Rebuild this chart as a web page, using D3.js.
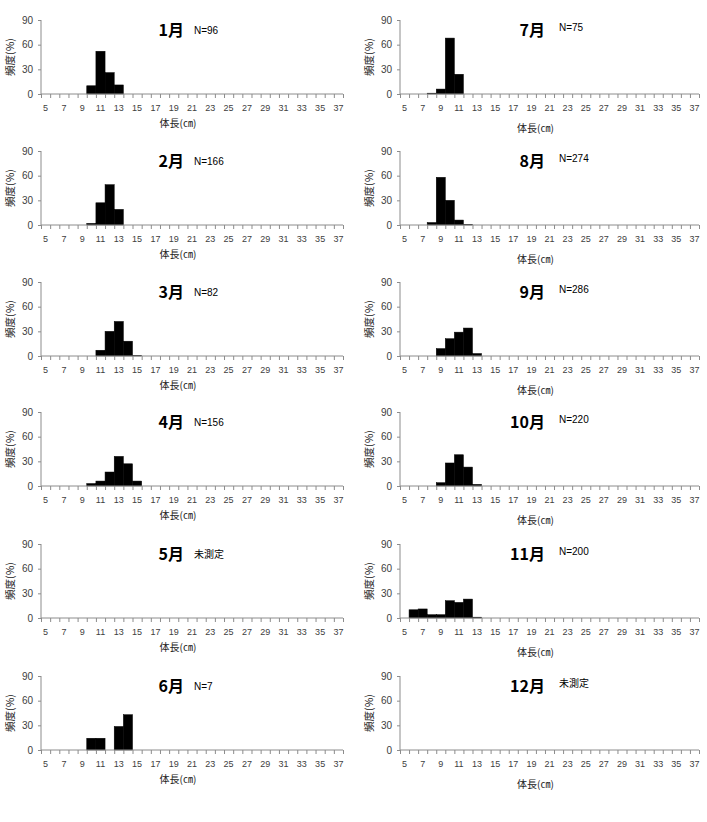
<!DOCTYPE html>
<html>
<head>
<meta charset="utf-8">
<script src="https://cdn.jsdelivr.net/npm/d3@7"></script>
<style>
  body { margin: 0; background: #fff; }
  .tick text { font-family: "Liberation Sans", Arial, sans-serif; font-size: 9px; fill: #404040; }
  .yax .tick text { font-size: 10px; }
  .domain, .tick line { stroke: #8c8c8c; }
</style>
</head>
<body>
<script>
// body length classes (cm)
var lengths = [5,6,7,8,9,10,11,12,13,14,15,16,17,18,19,20,21,22,23,24,25,26,27,28,29,30,31,32,33,34,35,36,37];
var labeled = [5,7,9,11,13,15,17,19,21,23,25,27,29,31,33,35,37];
var yTicks = [0,30,60,90];

var months = ["1月","2月","3月","4月","5月","6月","7月","8月","9月","10月","11月","12月"];
var notes  = ["N=96","N=166","N=82","N=156","未測定","N=7","N=75","N=274","N=286","N=220","N=200","未測定"];

// frequency (%) for each length class, 5cm .. 37cm
var jan = [0,0,0,0,0,10,52,26,11,0,0,0,0,0,0,0,0,0,0,0,0,0,0,0,0,0,0,0,0,0,0,0,0];
var feb = [0,0,0,0,0,2,27,49,19,0,0,0,0,0,0,0,0,0,0,0,0,0,0,0,0,0,0,0,0,0,0,0,0];
var mar = [0,0,0,0,0,0,7,30,42,18,0.5,0,0,0,0,0,0,0,0,0,0,0,0,0,0,0,0,0,0,0,0,0,0];
var apr = [0,0,0,0,0,3,6,17,36,27,6,0,0,0,0,0,0,0,0,0,0,0,0,0,0,0,0,0,0,0,0,0,0];
var may = [];
var jun = [0,0,0,0,0,14.3,14.3,0,28.6,42.9,0,0,0,0,0,0,0,0,0,0,0,0,0,0,0,0,0,0,0,0,0,0,0];
var jul = [0,0,0,1,6,68,24,0,0,0,0,0,0,0,0,0,0,0,0,0,0,0,0,0,0,0,0,0,0,0,0,0,0];
var aug = [0,0,0,3,58,30,6,0.5,0,0,0,0,0,0,0,0,0,0,0,0,0,0,0,0,0,0,0,0,0,0,0,0,0];
var sep = [0,0,0,0,9,21,29,34,3,0,0,0,0,0,0,0,0,0,0,0,0,0,0,0,0,0,0,0,0,0,0,0,0];
var oct = [0,0,0,0,4,28,38,23,2,0,0,0,0,0,0,0,0,0,0,0,0,0,0,0,0,0,0,0,0,0,0,0,0];
var nov = [0,10,11,4,4,21,19,23,1,0,0,0,0,0,0,0,0,0,0,0,0,0,0,0,0,0,0,0,0,0,0,0,0];
var dec = [];
var series = [jan,feb,mar,apr,may,jun,jul,aug,sep,oct,nov,dec];

var W = 707, H = 822;
var svg = d3.select("body").append("svg")
    .attr("width", W)
    .attr("height", H);

// panel placement: two columns, six rows
var colX = [{left: 41, right: 343}, {left: 400, right: 699}];
var rowTop = [20, 151, 282, 412, 544, 676];
var ph = 74;

months.forEach(function(m, i) {
    var col = i < 6 ? 0 : 1;
    var row = i % 6;
    var cx = colX[col];
    var pw = cx.right - cx.left;

    var g = svg.append("g")
        .attr("transform", "translate(" + cx.left + "," + rowTop[row] + ")");

    var x = d3.scaleBand().domain(lengths).range([0, pw]).padding(0);
    var y = d3.scaleLinear().domain([0, 90]).range([ph, 0]);

    // bars
    var vals = series[i].map(function(v, k) { return {len: lengths[k], v: v}; });
    g.selectAll("rect")
        .data(vals.filter(function(d) { return d.v > 0; }))
        .enter().append("rect")
        .attr("x", function(d) { return x(d.len); })
        .attr("width", x.bandwidth())
        .attr("y", function(d) { return y(d.v); })
        .attr("height", function(d) { return ph - y(d.v); })
        .attr("fill", "#000")
        .attr("stroke", "#000")
        .attr("stroke-width", 0.5);

    // y axis
    g.append("g")
        .attr("class", "yax")
        .call(d3.axisLeft(y).tickValues(yTicks).tickSize(3).tickPadding(5))
        .call(function(a) { a.select(".domain").attr("d", "M0," + ph + "V0"); });

    // x axis: tick marks on class boundaries, labels at odd lengths
    var xb = d3.scaleLinear().domain([0, lengths.length]).range([0, pw]);
    g.append("g")
        .attr("transform", "translate(0," + ph + ")")
        .call(d3.axisBottom(xb).tickValues(d3.range(0, lengths.length + 1)).tickFormat("").tickSize(4))
        .call(function(a) { a.select(".domain").attr("d", "M0,0H" + pw); });
    g.append("g")
        .attr("transform", "translate(0," + ph + ")")
        .call(d3.axisBottom(x).tickValues(labeled).tickSize(0).tickPadding(11))
        .call(function(a) { a.select(".domain").remove(); });

    // axis titles
    g.append("text")
        .attr("x", pw / 2 - 14)
        .attr("y", col == 0 ? 107 : 112)
        .attr("text-anchor", "middle")
        .style("font-family", "'Noto Sans CJK JP'")
        .style("font-size", "10px")
        .style("fill", "#222")
        .text("体長(㎝)");

    g.append("text")
        .attr("transform", "translate(" + (-31) + "," + (ph / 2) + ") rotate(-90)")
        .attr("text-anchor", "middle")
        .attr("dy", "0.35em")
        .style("font-family", "'Noto Sans CJK JP'")
        .style("font-size", "10.5px")
        .style("fill", "#222")
        .text("頻度(%)");

    // month title and sample size
    var tx = col == 0 ? 143 : 145;
    g.append("text")
        .attr("x", tx)
        .attr("y", 16)
        .attr("text-anchor", "end")
        .style("font-family", "'Noto Sans CJK JP'")
        .style("font-weight", "bold")
        .style("font-size", "16px")
        .text(m);

    g.append("text")
        .attr("x", tx + (col == 0 ? 10 : 14))
        .attr("y", col == 0 ? 14 : 11)
        .style("font-family", notes[i] == "未測定" ? "'Noto Sans CJK JP'" : "'Liberation Sans', Arial")
        .style("font-size", "10px")
        .text(notes[i]);
});
</script>
</body>
</html>
